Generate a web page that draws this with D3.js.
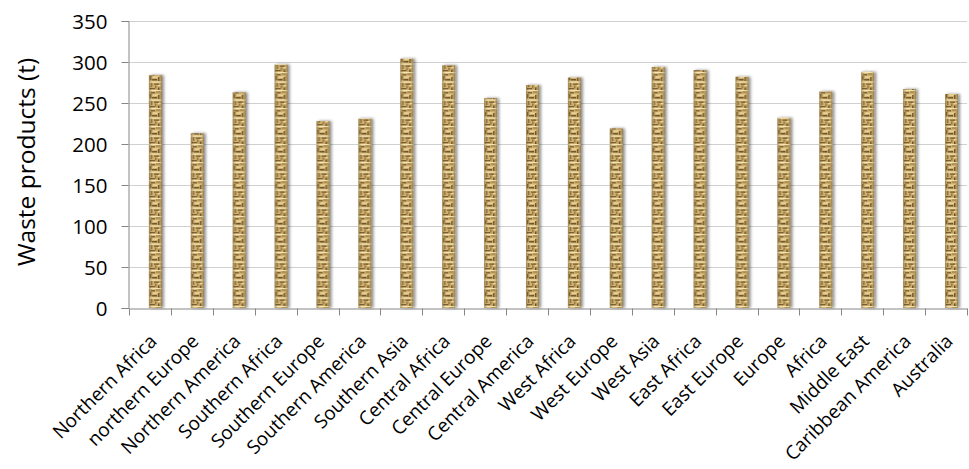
<!DOCTYPE html>
<html>
<head>
<meta charset="utf-8">
<script src="https://cdnjs.cloudflare.com/ajax/libs/d3/7.8.5/d3.min.js"></script>
<style>
  body { margin: 0; background: #fff; }
  svg text { font-family: "Open Sans", "Noto Sans", sans-serif; fill: #000; }
</style>
</head>
<body>
<div id="chart"></div>
<script>
//******************************************************************************
//**  Waste products bar chart
//******************************************************************************

  // data
    var regions = [
        "Northern Africa", "northern Europe", "Northern America", "Southern Africa",
        "Southern Europe", "Southern America", "Southern Asia", "Central Africa",
        "Central Europe", "Central America", "West Africa", "West Europe",
        "West Asia", "East Africa", "East Europe", "Europe", "Africa",
        "Middle East", "Caribbean America", "Australia"
    ];
    var waste = [
        284, 213, 263, 297, 228, 231, 304, 296, 256, 272,
        281, 219, 294, 290, 282, 232, 264, 288, 267, 261
    ];
    var yTicks = [0, 50, 100, 150, 200, 250, 300, 350];
    var yTitle = "Waste products (t)";


  // layout
    var width = 969, height = 469;
    var margin = {left: 129, right: 2, top: 21, bottom: 162};

    var svg = d3.select("#chart").append("svg")
        .attr("width", width)
        .attr("height", height);

    var defs = svg.append("defs");

  // soft shadow for the bars
    var shadow = defs.append("filter").attr("id", "barShadow")
        .attr("x", "-50%").attr("y", "-5%").attr("width", "200%").attr("height", "110%");
    shadow.append("feGaussianBlur").attr("in", "SourceAlpha").attr("stdDeviation", 1.6).attr("result", "blur");
    shadow.append("feOffset").attr("in", "blur").attr("dx", 1.5).attr("dy", 0).attr("result", "off");
    shadow.append("feComponentTransfer").attr("in", "off").attr("result", "shade")
        .append("feFuncA").attr("type", "linear").attr("slope", 0.45);
    var merge = shadow.append("feMerge");
    merge.append("feMergeNode").attr("in", "shade");
    merge.append("feMergeNode").attr("in", "SourceGraphic");

  // golden woven texture
    var tex = defs.append("pattern").attr("id", "weave")
        .attr("patternUnits", "userSpaceOnUse")
        .attr("width", 13).attr("height", 18);
    tex.append("rect").attr("width", 13).attr("height", 18).attr("fill", "#c9a862");
    var blocks = [
        [0,0,13,1.2,"#f3e2ac"], [2,2,4,1.5,"#6e4f22"], [7,1.5,4,1,"#8c6a32"],
        [1,4,1.5,4,"#7a5826"], [4,4.5,6,1.2,"#f0dca0"], [9,5,1.5,4,"#6a4b1f"],
        [3,7,5,1.5,"#5e421a"], [0,9.5,13,1.2,"#f5e6b4"], [2,11,1.5,4,"#80602c"],
        [5,11.5,5,1.3,"#6e4f22"], [6,13.5,1.5,3,"#8c6a32"], [9,13,3,1.2,"#f0dca0"],
        [1,16,5,1.2,"#634620"], [9,15.5,1.5,2.5,"#5e421a"]
    ];
    blocks.forEach(function(b){
        tex.append("rect").attr("x", b[0]).attr("y", b[1])
            .attr("width", b[2]).attr("height", b[3]).attr("fill", b[4]);
    });

  // cylinder-like shading on top of the texture
    var shade = defs.append("linearGradient").attr("id", "barShade")
        .attr("x1", 0).attr("x2", 1).attr("y1", 0).attr("y2", 0);
    shade.append("stop").attr("offset", "0%").attr("stop-color", "#3a2a10").attr("stop-opacity", 0.35);
    shade.append("stop").attr("offset", "30%").attr("stop-color", "#fff4d0").attr("stop-opacity", 0.15);
    shade.append("stop").attr("offset", "70%").attr("stop-color", "#fff4d0").attr("stop-opacity", 0.05);
    shade.append("stop").attr("offset", "100%").attr("stop-color", "#3a2a10").attr("stop-opacity", 0.4);


  // scales
    var x = d3.scaleBand()
        .domain(regions)
        .range([margin.left, width - margin.right])
        .paddingInner(0).paddingOuter(0);

    var y = d3.scaleLinear()
        .domain([0, 350])
        .range([height - margin.bottom + 1, margin.top]);


  // gridlines
    svg.append("g")
        .selectAll("line")
        .data(yTicks.slice(1))
        .enter().append("line")
        .attr("x1", margin.left).attr("x2", width - margin.right)
        .attr("y1", function(d){ return Math.round(y(d)) + 0.5; })
        .attr("y2", function(d){ return Math.round(y(d)) + 0.5; })
        .attr("stroke", "#d0d0d0")
        .attr("stroke-width", 1);


  // bars
    var bw = x.bandwidth();
    var barW = 13;
    var bars = svg.append("g").selectAll("g")
        .data(regions)
        .enter().append("g")
        .attr("transform", function(d){ return "translate(" + (x(d) + bw * 0.475) + ",0)"; })
        .attr("filter", "url(#barShadow)");

    bars.append("rect")
        .attr("x", 0)
        .attr("width", barW)
        .attr("y", function(d, i){ return y(waste[i]); })
        .attr("height", function(d, i){ return y(0) - y(waste[i]); })
        .attr("fill", "url(#weave)");

    bars.append("rect")
        .attr("x", 0)
        .attr("width", barW)
        .attr("y", function(d, i){ return y(waste[i]); })
        .attr("height", function(d, i){ return y(0) - y(waste[i]); })
        .attr("fill", "url(#barShade)");


  // y axis
    var yAxis = svg.append("g")
        .attr("transform", "translate(" + (margin.left - 0.5) + ",0)")
        .call(d3.axisLeft(y).tickValues(yTicks).tickSize(7).tickPadding(14));
    yAxis.select(".domain").attr("stroke", "#868686");
    yAxis.selectAll(".tick line").attr("stroke", "#868686");
    yAxis.selectAll(".tick text")
        .style("font-size", "20.5px")
        .attr("dy", "0.36em");


  // x axis
    var xAxis = svg.append("g")
        .attr("transform", "translate(0," + (Math.round(y(0)) + 0.5) + ")")
        .call(d3.axisBottom(x).tickSizeOuter(0).tickSize(0));
    xAxis.select(".domain").attr("stroke", "#868686");

  // ticks between categories
    xAxis.selectAll(".sep")
        .data(regions.concat(["__end"]))
        .enter().append("line")
        .attr("class", "sep")
        .attr("x1", function(d, i){ return Math.round(margin.left + i * bw) + 0.5; })
        .attr("x2", function(d, i){ return Math.round(margin.left + i * bw) + 0.5; })
        .attr("y1", 0).attr("y2", 7)
        .attr("stroke", "#868686");

    xAxis.selectAll(".tick text")
        .style("font-size", "19px")
        .attr("text-anchor", "end")
        .attr("y", 0)
        .attr("dy", 0)
        .attr("transform", "translate(8,34) rotate(-45)");


  // y axis title
    svg.append("text")
        .attr("transform", "translate(35,162) rotate(-90)")
        .attr("text-anchor", "middle")
        .style("font-size", "24.5px")
        .text(yTitle);

</script>
</body>
</html>
